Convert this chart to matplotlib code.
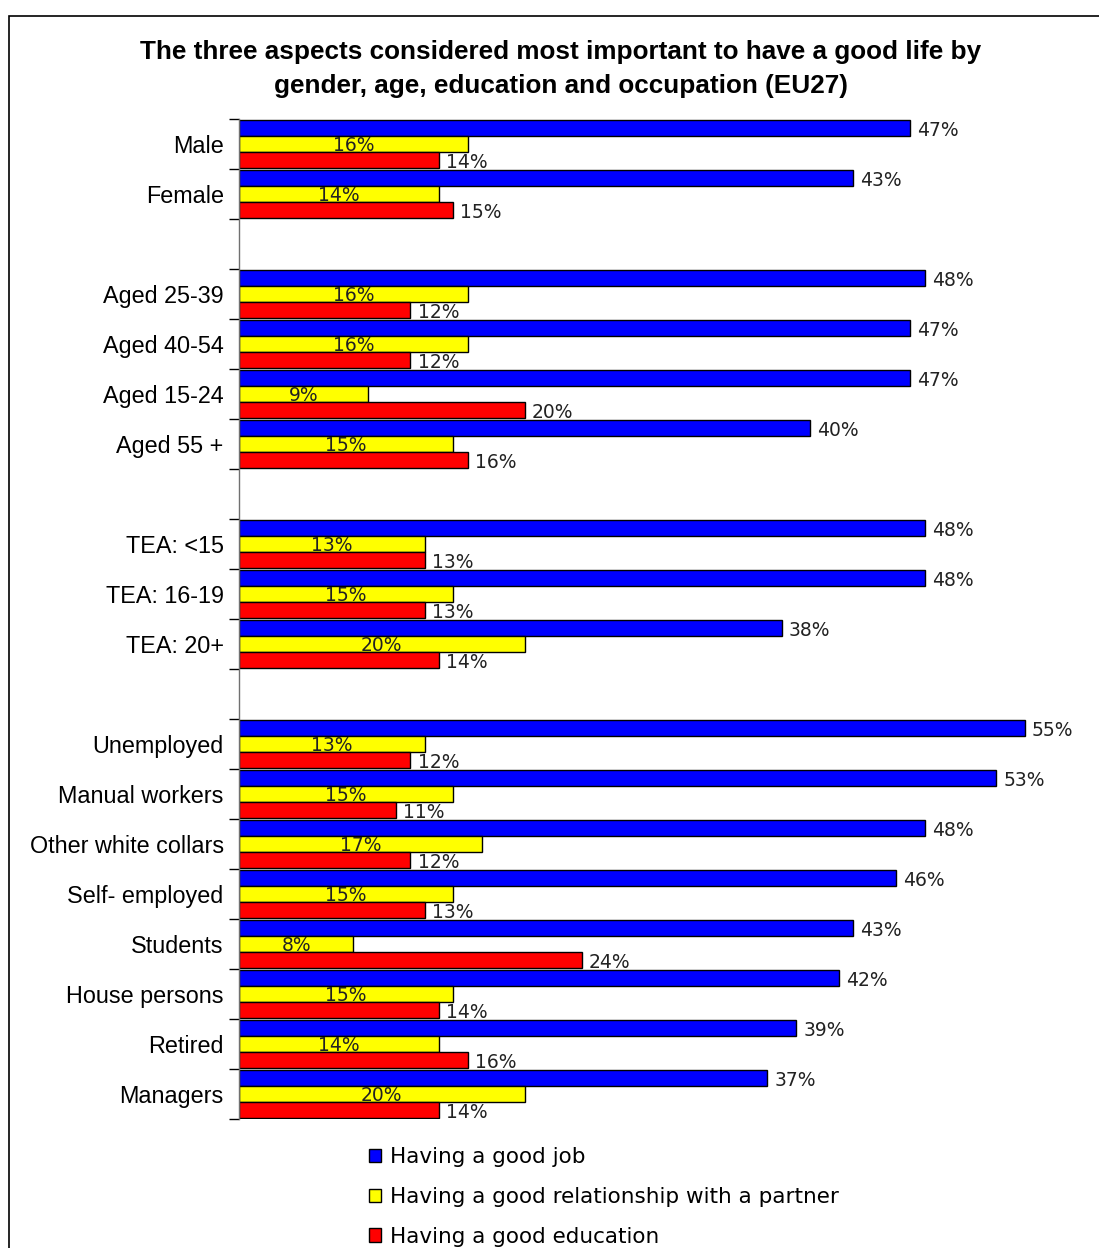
import numpy as np
import matplotlib
matplotlib.use("Agg")
import matplotlib.pyplot as plt
from matplotlib.patches import Patch, Rectangle

# -------------------------------
# Data (EU27, % mentioning each aspect)
# -------------------------------
categories = ["Male", "Female", "",
              "Aged 25-39", "Aged 40-54", "Aged 15-24", "Aged 55 +", "",
              "TEA: <15", "TEA: 16-19", "TEA: 20+", "",
              "Unemployed", "Manual workers", "Other white collars", "Self- employed",
              "Students", "House persons", "Retired", "Managers"]
good_job = [47, 43, None, 48, 47, 47, 40, None, 48, 48, 38, None,
            55, 53, 48, 46, 43, 42, 39, 37]
good_partner = [16, 14, None, 16, 16, 9, 15, None, 13, 15, 20, None,
                13, 15, 17, 15, 8, 15, 14, 20]
good_education = [14, 15, None, 12, 12, 20, 16, None, 13, 13, 14, None,
                  12, 11, 12, 13, 24, 14, 16, 14]
series_names = ["Having a good job",
                "Having a good relationship with a partner",
                "Having a good education"]
series_colors = ["#0000FF", "#FFFF00", "#FF0000"]

title = ("The three aspects considered most important to have a good life by\n"
         "gender, age, education and occupation (EU27)")

W, H = 1099, 1248
fig = plt.figure(figsize=(W / 100, H / 100), dpi=100)
ax = fig.add_axes([239 / W, 1 - 1119 / H, 857 / W, 1000 / H])

n = len(categories)
y = np.arange(n)
bar_h = 0.32
value_font = dict(family="DejaVu Sans", fontsize=13.5, color="#222222")

all_series = [good_job, good_partner, good_education]
for k, (vals, col) in enumerate(zip(all_series, series_colors)):
    idx = [i for i, v in enumerate(vals) if v is not None]
    w = np.array([vals[i] for i in idx], dtype=float)
    pos = y[idx] + (k - 1) * bar_h
    ax.barh(pos, w, height=bar_h, color=col, edgecolor="black", linewidth=1.0,
            label=series_names[k])
    for p, v in zip(pos, w):
        if k == 1:
            # partner label sits inside the bar, centred
            ax.text(v / 2, p + 0.03, f"{v:.0f}%", ha="center", va="center", **value_font)
        else:
            ax.text(v + 0.5, p + 0.04, f"{v:.0f}%", ha="left", va="center", **value_font)

ax.set_xlim(0, 60)
ax.set_ylim(n - 0.5, -0.5)
ax.set_xticks([])
ax.set_yticks(y)
ax.set_yticklabels(categories, family="Liberation Sans", fontsize=16.8)
ax.tick_params(axis="y", which="major", length=0, pad=11)
ax.set_yticks(np.arange(n + 1) - 0.5, minor=True)
ax.tick_params(axis="y", which="minor", length=7, width=1.0, color="black")
for s in ["top", "right", "bottom"]:
    ax.spines[s].set_visible(False)
ax.spines["left"].set_color("#707070")
ax.spines["left"].set_linewidth(1.0)

fig.text(561 / W, 1 - 40 / H, title, ha="center", va="top",
         family="Liberation Sans", fontweight="bold", fontsize=18.8, linespacing=1.5)

handles = [Patch(facecolor=c, edgecolor="black", linewidth=1.0) for c in series_colors]
fig.legend(handles, series_names, loc="upper left",
           bbox_to_anchor=(369 / W, 1 - 1147 / H), frameon=False,
           prop=dict(family="DejaVu Sans", size=15.5), handlelength=0.56,
           handleheight=0.56, handletextpad=0.4, labelspacing=0.92,
           borderpad=0, borderaxespad=0)

# outer frame (right and bottom edges fall outside the image)
fig.patches.append(Rectangle((9 / W, -0.1), 1.2, 1.1 - 16 / H,
                             transform=fig.transFigure, fill=False,
                             edgecolor="black", linewidth=1.2))

fig.savefig("out.png", dpi=100)
